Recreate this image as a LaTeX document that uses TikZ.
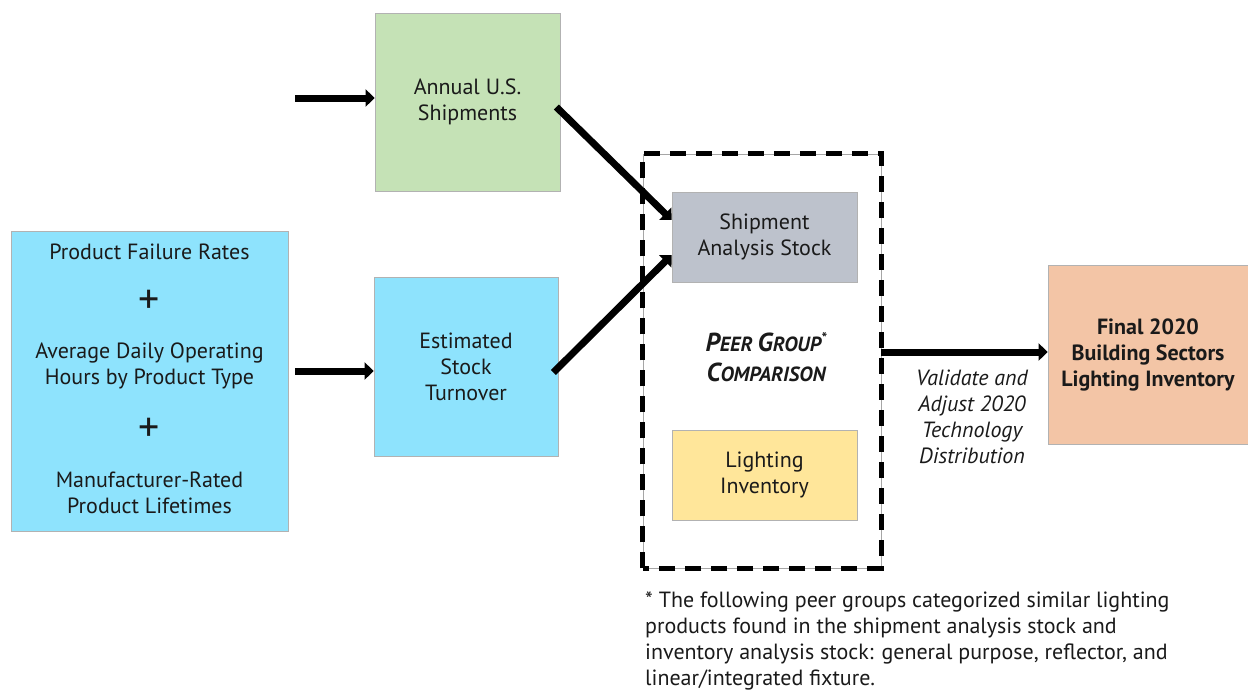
\documentclass[tikz,border=0pt]{standalone}
\usepackage{fontspec}
\setmainfont{PT Sans}
\usetikzlibrary{arrows.meta,calc,positioning}

\definecolor{boxgreen}{HTML}{C5E2B6}
\definecolor{boxblue}{HTML}{8EE3FD}
\definecolor{boxgray}{HTML}{BDC2CC}
\definecolor{boxyellow}{HTML}{FFE69A}
\definecolor{boxpeach}{HTML}{F3C5A6}
\definecolor{ink}{HTML}{1A1A1A}

\newcommand{\bodyfont}{\fontsize{22}{26}\selectfont}
\newcommand{\plusfont}{\fontsize{42}{42}\selectfont}
\newcommand{\capA}{\fontsize{26}{30}\selectfont}
\newcommand{\capB}{\fontsize{20.5}{30}\selectfont}

\tikzset{
  block/.style={draw=black!30, line width=0.7pt, align=center, inner sep=0pt,
                text=ink, font=\bodyfont},
  thickarrow/.style={line width=7pt, draw=black,
                     -{Triangle[length=9pt,width=17pt]}, shorten <=0pt},
  dashframe/.style={draw=black, line width=4.5pt, dash pattern=on 16pt off 10pt},
}

\begin{document}
\begin{tikzpicture}[x=1pt,y=-1pt]
\useasboundingbox (0,0) rectangle (1248,691);

% input boxes
\node[block, fill=boxgreen, minimum width=185, minimum height=178] (ship) at (467.5,102)
  {Annual U.S.\\Shipments};
\node[block, fill=boxblue, minimum width=277, minimum height=300] (inputs) at (149.5,381) {};
\node[text=ink, font=\bodyfont, align=center] (pfr) at (149.5,252) {Product Failure Rates};
\node[text=ink, font=\plusfont] (plusA) at (149.5,302) {+};
\node[text=ink, font=\bodyfont, align=center] (adoh) at (149.5,366)
  {Average Daily Operating\\Hours by Product Type};
\node[text=ink, font=\plusfont] (plusB) at (149.5,430) {+};
\node[text=ink, font=\bodyfont, align=center] (mrpl) at (149.5,493)
  {Manufacturer-Rated\\Product Lifetimes};
\node[block, fill=boxblue, minimum width=184, minimum height=179] (turn) at (466,366.5)
  {Estimated\\Stock\\Turnover};

% peer group comparison frame
\node[draw=black!35, line width=0.7pt, minimum width=238, minimum height=414, inner sep=0]
  (frame) at (762,361) {};
\draw[dashframe] (frame.south west) rectangle (frame.north east);
\node[block, fill=boxgray, minimum width=185, minimum height=90] (sas) at (764.5,237)
  {Shipment\\Analysis Stock};
\node[block, fill=boxyellow, minimum width=185, minimum height=90] (lite) at (764.5,475)
  {Lighting\\Inventory};
\node[text=ink, align=center, font=\capA\bfseries\itshape] (peer) at (766,357)
  {P{\capB EER }G{\capB ROUP}\raisebox{8pt}{\fontsize{15}{15}\selectfont *}\\
   C{\capB OMPARISON}};

% result
\node[block, fill=boxpeach, minimum width=200, minimum height=179, font=\bodyfont\bfseries] (final) at (1148,354.5)
  {Final 2020\\Building Sectors\\Lighting Inventory};
\node[text=ink, font=\bodyfont\itshape, align=center] (valid) at (972,417)
  {Validate and\\Adjust 2020\\Technology\\Distribution};

% footnote
\node[text=ink, font=\bodyfont, align=left, anchor=north west, inner sep=0] (note) at (645,592)
  {* The following peer groups categorized similar lighting\\
   products found in the shipment analysis stock and\\
   inventory analysis stock: general purpose, reflector, and\\
   linear/integrated fixture.};

% connectors
\coordinate (feedA) at (295,98);
\coordinate (feedB) at (295,371);
\draw[thickarrow] (feedA) -- (feedA -| ship.west);
\draw[thickarrow] (feedB) -- (feedB -| turn.west);
\draw[thickarrow] ($(ship.east)+(-4,5)$) -- ($(sas.west)+(0,-17)$);
\draw[thickarrow] ($(turn.east)+(-5,6)$) -- ($(sas.west)+(0,18)$);
\draw[thickarrow] (frame.east |- 0,352) -- (final.west |- 0,352);
\end{tikzpicture}
\end{document}
